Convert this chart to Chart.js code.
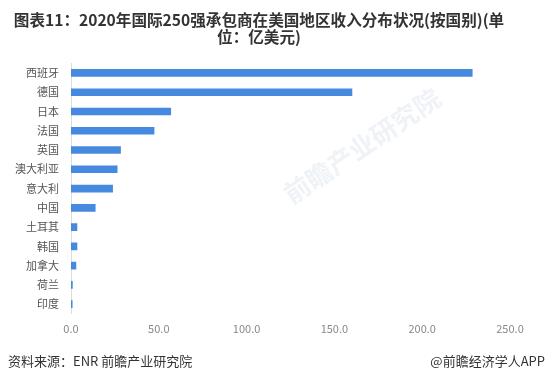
<!DOCTYPE html>
<html>
<head>
<meta charset="utf-8">
<script src="https://cdn.jsdelivr.net/npm/chart.js@4/dist/chart.umd.min.js"></script>
<style>
  html, body { margin: 0; padding: 0; background: #fff; }
  #wrap { width: 546px; height: 382px; position: relative; }
</style>
</head>
<body>
<div id="wrap"><canvas id="chart"></canvas></div>
<script>
const countries = ["西班牙", "德国", "日本", "法国", "英国", "澳大利亚", "意大利", "中国", "土耳其", "韩国", "加拿大", "荷兰", "印度"];
const revenue = [228.5, 160.0, 56.8, 47.3, 28.2, 26.3, 23.7, 13.8, 3.4, 3.4, 2.8, 0.8, 0.7];
const xMin = 0;
const xMax = 250;
const xStep = 50;
const titleLines = ["图表11：2020年国际250强承包商在美国地区收入分布状况(按国别)(单", "位：亿美元)"];
const sourceText = "资料来源：ENR 前瞻产业研究院";
const brandText = "@前瞻经济学人APP";
const watermark = "前瞻产业研究院";

const FONT = '"Noto Sans CJK SC", "Noto Sans", sans-serif';

// footer texts + faint watermark
const extras = {
  id: "extras",
  beforeDraw(chart) {
    const ctx = chart.ctx;
    ctx.save();
    ctx.translate(362, 146);
    ctx.rotate(-34 * Math.PI / 180);
    ctx.fillStyle = "rgba(220,228,238,0.45)";
    ctx.font = "bold 26px " + FONT;
    ctx.textAlign = "center";
    ctx.textBaseline = "middle";
    ctx.fillText(watermark, 0, 0);
    ctx.restore();
  },
  afterDraw(chart) {
    const ctx = chart.ctx;
    ctx.save();
    ctx.font = "13px " + FONT;
    ctx.fillStyle = "#333";
    ctx.textBaseline = "middle";
    ctx.textAlign = "left";
    ctx.fillText(sourceText, 8, 361);
    ctx.textAlign = "right";
    ctx.fillText(brandText, 545, 361);
    ctx.restore();
  }
};

new Chart(document.getElementById("chart"), {
  type: "bar",
  data: {
    labels: countries,
    datasets: [{
      data: revenue,
      backgroundColor: "#458ade",
      barThickness: 7,
    }]
  },
  options: {
    indexAxis: "y",
    responsive: true,
    maintainAspectRatio: false,
    animation: false,
    layout: { padding: { left: 8, right: 36, top: 0, bottom: 47 } },
    scales: {
      x: {
        min: xMin,
        max: xMax,
        grid: { display: false },
        border: { display: false },
        ticks: {
          stepSize: xStep,
          padding: 0,
          color: "#888",
          font: { family: FONT, size: 11 },
          callback: (v) => Number(v).toFixed(1),
        },
      },
      y: {
        grid: { display: false },
        border: { display: true, color: "#dcdcdc", width: 1 },
        ticks: {
          padding: 4,
          color: "#555",
          font: { family: FONT, size: 11 },
        },
        afterFit: (scale) => { scale.width = 63; },
      },
    },
    plugins: {
      legend: { display: false },
      tooltip: { enabled: false },
      title: {
        display: true,
        text: titleLines,
        color: "#333",
        font: { family: FONT, size: 15.6, weight: "bold", lineHeight: 1.1 },
        padding: { top: 11, bottom: 18 },
      },
    },
  },
  plugins: [extras],
});
</script>
</body>
</html>
